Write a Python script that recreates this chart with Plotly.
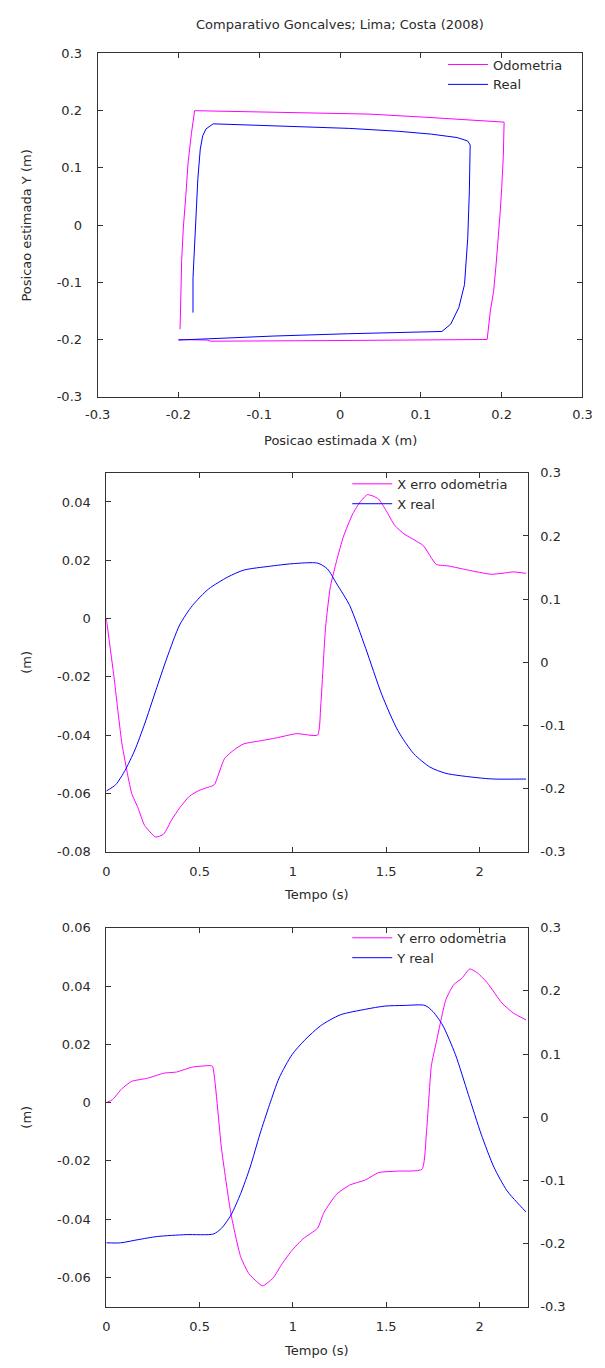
import plotly.graph_objects as go

# ---------------- data ----------------
TITLE = "Comparativo Goncalves; Lima; Costa (2008)"

# Panel 1: XY trajectory
odo_x = [-0.200, -0.165, -0.160, -0.100, -0.020, 0.080, 0.140, 0.182,
         0.186, 0.190, 0.193, 0.196, 0.198, 0.200, 0.202, 0.203,
         0.180, 0.146, 0.100, 0.037, -0.030, -0.087, -0.150, -0.180,
         -0.184, -0.188, -0.191, -0.194, -0.196, -0.197, -0.198, -0.198]
odo_y = [-0.200, -0.201, -0.203, -0.203, -0.202, -0.201, -0.200, -0.200,
         -0.150, -0.116, -0.070, -0.023, 0.020, 0.064, 0.120, 0.180,
         0.182, 0.186, 0.189, 0.194, 0.196, 0.198, 0.200, 0.200,
         0.160, 0.110, 0.050, -0.005, -0.060, -0.121, -0.160, -0.182]
real_x = [-0.200, -0.150, -0.082, 0.009, 0.080, 0.126,
          0.137, 0.147, 0.154, 0.158, 0.160, 0.161,
          0.158, 0.145, 0.113, 0.072, 0.012, -0.060, -0.135, -0.157,
          -0.166, -0.170, -0.173, -0.176, -0.179, -0.182, -0.182]
real_y = [-0.201, -0.198, -0.194, -0.190, -0.188, -0.186,
          -0.173, -0.144, -0.104, -0.023, 0.060, 0.140,
          0.147, 0.153, 0.159, 0.164, 0.169, 0.173, 0.176, 0.177,
          0.168, 0.156, 0.133, 0.081, -0.006, -0.092, -0.153]

# Panel 2: X error (left axis) and X real (right axis)
xerr_t = [0, 0.041, 0.084, 0.136, 0.170, 0.205, 0.265, 0.307, 0.351, 0.393,
          0.445, 0.497, 0.565, 0.580, 0.634, 0.686, 0.737, 0.823, 0.909, 1.021,
          1.132, 1.149, 1.175, 1.201, 1.235, 1.270, 1.321, 1.360, 1.399, 1.430,
          1.459, 1.500, 1.545, 1.596, 1.650, 1.699, 1.768, 1.837, 1.940, 2.060,
          2.120, 2.180, 2.249]
xerr_v = [0.000, -0.020, -0.043, -0.060, -0.065, -0.071, -0.075, -0.074, -0.069, -0.065,
          -0.061, -0.059, -0.0575, -0.057, -0.048, -0.045, -0.043, -0.042, -0.041, -0.0395,
          -0.040, -0.030, -0.003, 0.011, 0.020, 0.028, 0.036, 0.040, 0.0425, 0.042,
          0.041, 0.037, 0.032, 0.029, 0.027, 0.025, 0.0186, 0.018, 0.0166, 0.0152,
          0.0155, 0.016, 0.0155]
xreal_t = [0, 0.050, 0.101, 0.153, 0.205, 0.265, 0.325, 0.393, 0.462, 0.548,
           0.651, 0.737, 0.875, 0.995, 1.132, 1.184, 1.235, 1.304, 1.390, 1.476,
           1.562, 1.648, 1.734, 1.820, 1.991, 2.077, 2.249]
xreal_v = [-0.204, -0.194, -0.171, -0.139, -0.098, -0.045, 0.007, 0.059, 0.090, 0.116,
           0.135, 0.146, 0.152, 0.156, 0.157, 0.148, 0.124, 0.090, 0.022, -0.051,
           -0.108, -0.145, -0.166, -0.176, -0.183, -0.185, -0.185]

# Panel 3: Y error (left axis) and Y real (right axis)
yerr_t = [0, 0.033, 0.084, 0.136, 0.222, 0.308, 0.376, 0.462, 0.557, 0.569,
          0.617, 0.668, 0.720, 0.763, 0.806, 0.837, 0.892, 0.943, 0.995, 1.055,
          1.132, 1.167, 1.235, 1.304, 1.390, 1.459, 1.562, 1.691, 1.716, 1.742,
          1.768, 1.820, 1.862, 1.906, 1.948, 1.991, 2.043, 2.120, 2.180, 2.249]
yerr_v = [0.000, 0.001, 0.0048, 0.0073, 0.0084, 0.0101, 0.0105, 0.0122, 0.0127, 0.0125,
          -0.0156, -0.0382, -0.0529, -0.0586, -0.0614, -0.0629, -0.0603, -0.0552, -0.0507, -0.0467,
          -0.0431, -0.0376, -0.0314, -0.0283, -0.0265, -0.024, -0.0235, -0.0229, -0.0099, 0.0127,
          0.0206, 0.0354, 0.0405, 0.0427, 0.0459, 0.0444, 0.041, 0.0342, 0.0308, 0.0284]
yreal_t = [0, 0.076, 0.170, 0.273, 0.428, 0.574, 0.617, 0.668, 0.720, 0.771,
           0.823, 0.875, 0.926, 0.995, 1.063, 1.149, 1.253, 1.390, 1.493, 1.596,
           1.708, 1.751, 1.802, 1.871, 1.940, 2.009, 2.077, 2.146, 2.198, 2.249]
yreal_v = [-0.199, -0.199, -0.194, -0.189, -0.186, -0.185, -0.176, -0.155, -0.121, -0.079,
           -0.027, 0.020, 0.062, 0.099, 0.122, 0.145, 0.162, 0.171, 0.176, 0.177,
           0.177, 0.167, 0.146, 0.099, 0.036, -0.027, -0.079, -0.116, -0.134, -0.150]

# tick labels
p1_ticks = [-0.3, -0.2, -0.1, 0, 0.1, 0.2, 0.3]
p1_labels = ["-0.3", "-0.2", "-0.1", "0", "0.1", "0.2", "0.3"]
t_ticks = [0, 0.5, 1, 1.5, 2]
t_labels = ["0", "0.5", "1", "1.5", "2"]
p2_left_ticks = [-0.08, -0.06, -0.04, -0.02, 0, 0.02, 0.04]
p2_left_labels = ["-0.08", "-0.06", "-0.04", "-0.02", "0", "0.02", "0.04"]
p3_left_ticks = [-0.06, -0.04, -0.02, 0, 0.02, 0.04, 0.06]
p3_left_labels = ["-0.06", "-0.04", "-0.02", "0", "0.02", "0.04", "0.06"]
right_ticks = [-0.3, -0.2, -0.1, 0, 0.1, 0.2, 0.3]
right_labels = ["-0.3", "-0.2", "-0.1", "0", "0.1", "0.2", "0.3"]

# ---------------- layout geometry ----------------
W, H = 605, 1368
MAG = "#ff00ff"
BLU = "#0000ff"
AX = "#333333"
TXT = "#2a2a2a"
FONT = "DejaVu Sans, Verdana, sans-serif"
FS = 13


def xd(a, b):
    return [a / W, b / W]


def yd(top, bottom):
    return [1 - bottom / H, 1 - top / H]


fig = go.Figure()

fig.add_trace(go.Scatter(x=odo_x, y=odo_y, mode="lines", name="Odometria",
                         line=dict(color=MAG, width=1), xaxis="x", yaxis="y",
                         legend="legend"))
fig.add_trace(go.Scatter(x=real_x, y=real_y, mode="lines", name="Real",
                         line=dict(color=BLU, width=1), xaxis="x", yaxis="y",
                         legend="legend"))

fig.add_trace(go.Scatter(x=xerr_t, y=xerr_v, mode="lines", name="X erro odometria",
                         line=dict(color=MAG, width=1, shape="spline", smoothing=0.5),
                         xaxis="x2", yaxis="y3", legend="legend2"))
fig.add_trace(go.Scatter(x=xreal_t, y=xreal_v, mode="lines", name="X real",
                         line=dict(color=BLU, width=1, shape="spline", smoothing=0.7),
                         xaxis="x2", yaxis="y4", legend="legend2"))

fig.add_trace(go.Scatter(x=yerr_t, y=yerr_v, mode="lines", name="Y erro odometria",
                         line=dict(color=MAG, width=1, shape="spline", smoothing=0.5),
                         xaxis="x3", yaxis="y5", legend="legend3"))
fig.add_trace(go.Scatter(x=yreal_t, y=yreal_v, mode="lines", name="Y real",
                         line=dict(color=BLU, width=1, shape="spline", smoothing=0.7),
                         xaxis="x3", yaxis="y6", legend="legend3"))

common = dict(showline=True, linecolor=AX, linewidth=1, ticks="inside", ticklen=5,
              tickcolor=AX, tickwidth=1, showgrid=False, zeroline=False,
              ticklabeloverflow="allow",
              tickfont=dict(family=FONT, size=FS, color=TXT))

P1 = (88, 592, 47, 394)
P2 = (97, 535, 471, 854)
P3 = (97, 535, 931, 1314)

fig.update_layout(
    width=W, height=H, margin=dict(l=0, r=0, t=0, b=0),
    paper_bgcolor="white", plot_bgcolor="white",
    font=dict(family=FONT, size=FS, color=TXT),
    xaxis=dict(domain=xd(P1[0], P1[1]), anchor="y", range=[-0.3, 0.3],
               tickvals=p1_ticks, ticktext=p1_labels, mirror="ticks",
               ticklabelstandoff=6, **common),
    yaxis=dict(domain=yd(P1[2], P1[3]), anchor="x", range=[-0.3, 0.3],
               tickvals=p1_ticks, ticktext=p1_labels, mirror="ticks",
               ticklabelstandoff=12, **common),
    xaxis2=dict(domain=xd(P2[0], P2[1]), anchor="y3", range=[0, 2.258],
                tickvals=t_ticks, ticktext=t_labels, mirror="ticks",
                ticklabelstandoff=8, **common),
    yaxis3=dict(domain=yd(P2[2], P2[3]), anchor="x2", range=[-0.08, 0.05],
                tickvals=p2_left_ticks, ticktext=p2_left_labels,
                ticklabelstandoff=12, **common),
    yaxis4=dict(domain=yd(P2[2], P2[3]), anchor="x2", overlaying="y3", side="right",
                range=[-0.3, 0.3], tickvals=right_ticks, ticktext=right_labels,
                ticklabelstandoff=9, **common),
    xaxis3=dict(domain=xd(P3[0], P3[1]), anchor="y5", range=[0, 2.258],
                tickvals=t_ticks, ticktext=t_labels, mirror="ticks",
                ticklabelstandoff=8, **common),
    yaxis5=dict(domain=yd(P3[2], P3[3]), anchor="x3", range=[-0.07, 0.06],
                tickvals=p3_left_ticks, ticktext=p3_left_labels,
                ticklabelstandoff=12, **common),
    yaxis6=dict(domain=yd(P3[2], P3[3]), anchor="x3", overlaying="y5", side="right",
                range=[-0.3, 0.3], tickvals=right_ticks, ticktext=right_labels,
                ticklabelstandoff=9, **common),
)

leg_common = dict(bgcolor="rgba(0,0,0,0)", borderwidth=0, xanchor="right", yanchor="top",
                  font=dict(family=FONT, size=FS, color=TXT), tracegroupgap=0,
                  itemwidth=40)
fig.update_layout(
    legend=dict(x=577 / W, y=1 - 43 / H, **leg_common),
    legend2=dict(x=520 / W, y=1 - 467 / H, **leg_common),
    legend3=dict(x=520 / W, y=1 - 926 / H, **leg_common),
)

annos = [
    dict(text=TITLE, x=(P1[0] + P1[1]) / 2 / W, y=1 - 18 / H),
    dict(text="Posicao estimada X (m)", x=(P1[0] + P1[1]) / 2 / W, y=1 - 438 / H),
    dict(text="Tempo (s)", x=(P2[0] + P2[1]) / 2 / W, y=1 - 897 / H),
    dict(text="Tempo (s)", x=(P3[0] + P3[1]) / 2 / W, y=1 - 1358 / H),
]
for a in annos:
    fig.add_annotation(text=a["text"], x=a["x"], y=a["y"], xref="paper", yref="paper",
                       showarrow=False, xanchor="center", yanchor="middle",
                       font=dict(family=FONT, size=FS, color=TXT))
for txt, yc in [("Posicao estimada Y (m)", (P1[2] + P1[3]) / 2),
                ("(m)", (P2[2] + P2[3]) / 2),
                ("(m)", (P3[2] + P3[3]) / 2)]:
    fig.add_annotation(text=txt, x=14 / W, y=1 - yc / H, xref="paper", yref="paper",
                       showarrow=False, textangle=-90, xanchor="center", yanchor="middle",
                       font=dict(family=FONT, size=FS, color=TXT))

fig.write_html("out.html")
